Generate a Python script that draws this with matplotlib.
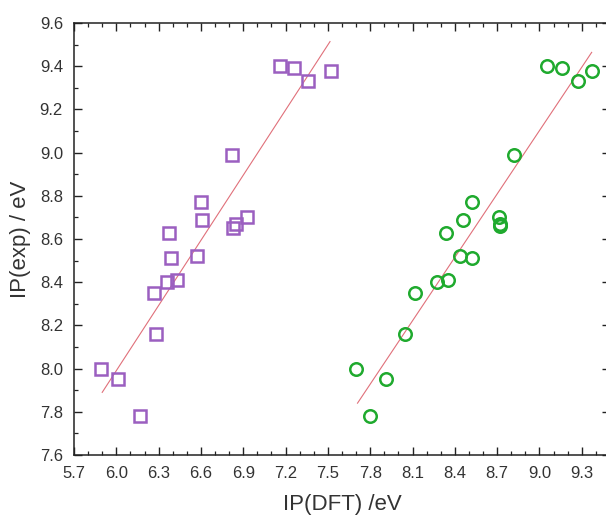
import matplotlib
matplotlib.use("Agg")
import matplotlib.pyplot as plt
from matplotlib.ticker import MultipleLocator
import numpy as np

plt.rcParams['font.family'] = ['Liberation Sans', 'DejaVu Sans']

# Purple squares (first set)
sq_x = [5.89, 6.01, 6.17, 6.28, 6.27, 6.36, 6.43, 6.39, 6.57, 6.37,
        6.60, 6.61, 6.83, 6.85, 6.93, 6.82, 7.16, 7.26, 7.36, 7.52]
sq_y = [8.00, 7.95, 7.78, 8.16, 8.35, 8.40, 8.41, 8.51, 8.52, 8.63,
        8.77, 8.69, 8.65, 8.67, 8.70, 8.99, 9.40, 9.39, 9.33, 9.38]

# Green circles (second set)
ci_x = [7.70, 7.91, 7.80, 8.05, 8.12, 8.27, 8.35, 8.44, 8.52, 8.34,
        8.52, 8.46, 8.72, 8.72, 8.71, 8.82, 9.05, 9.16, 9.27, 9.37]
ci_y = [8.00, 7.95, 7.78, 8.16, 8.35, 8.40, 8.41, 8.52, 8.51, 8.63,
        8.77, 8.69, 8.66, 8.67, 8.70, 8.99, 9.40, 9.39, 9.33, 9.38]

# Fit lines (endpoints)
fit1_x = [5.90, 7.515]
fit1_y = [7.89, 9.514]
fit2_x = [7.71, 9.37]
fit2_y = [7.84, 9.464]

x_ticks = [5.7, 6.0, 6.3, 6.6, 6.9, 7.2, 7.5, 7.8, 8.1, 8.4, 8.7, 9.0, 9.3]
y_ticks = [7.6, 7.8, 8.0, 8.2, 8.4, 8.6, 8.8, 9.0, 9.2, 9.4, 9.6]

fig = plt.figure(figsize=(6.06, 5.15), dpi=100)
ax = fig.add_axes([74/606, (515-455)/515, 536/606, 432/515])

line_color = '#e0707a'
ax.plot(fit1_x, fit1_y, color=line_color, lw=0.8, zorder=2)
ax.plot(fit2_x, fit2_y, color=line_color, lw=0.8, zorder=2)

ax.plot(sq_x, sq_y, linestyle='none', marker='s', markersize=8,
        markerfacecolor='none', markeredgecolor='#9b5fc0', markeredgewidth=1.8, zorder=3)
ax.plot(ci_x, ci_y, linestyle='none', marker='o', markersize=9,
        markerfacecolor='none', markeredgecolor='#1faa2e', markeredgewidth=1.8, zorder=3)

ax.set_xlim(5.7, 9.5)
ax.set_ylim(7.6, 9.6)
ax.set_xticks(x_ticks)
ax.set_xticklabels([f"{v:.1f}" for v in x_ticks])
ax.set_yticks(y_ticks)
ax.set_yticklabels([f"{v:.1f}" for v in y_ticks])
ax.xaxis.set_minor_locator(MultipleLocator(0.1))
ax.yaxis.set_minor_locator(MultipleLocator(0.1))

ax.tick_params(which='both', direction='in', top=True, right=True, color='#222222')
ax.tick_params(which='major', length=6, width=1.0, labelsize=12, pad=8, labelcolor='#333333')
ax.tick_params(which='minor', length=3, width=0.9)

for s in ax.spines.values():
    s.set_linewidth(1.1)
    s.set_color('#222222')

ax.set_xlabel('IP(DFT) /eV', fontsize=16, color='#333333', labelpad=9)
ax.set_ylabel('IP(exp) / eV', fontsize=16, color='#333333', labelpad=6)

fig.savefig('out.png', dpi=100)
